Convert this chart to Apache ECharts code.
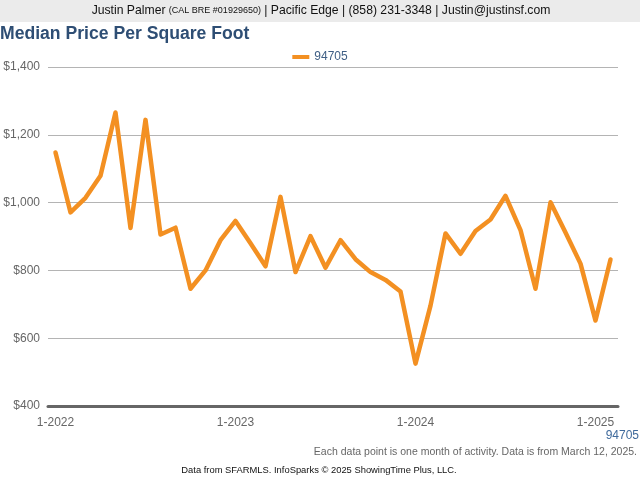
<!DOCTYPE html>
<html><head><meta charset="utf-8">
<script src="https://cdn.jsdelivr.net/npm/echarts@6/dist/echarts.min.js"></script>
<style>html,body{margin:0;padding:0;background:#fff}#c{width:640px;height:480px}</style>
</head><body><div id="c"></div>
<script>
const months = ["1-2022","2-2022","3-2022","4-2022","5-2022","6-2022","7-2022","8-2022","9-2022","10-2022","11-2022","12-2022",
"1-2023","2-2023","3-2023","4-2023","5-2023","6-2023","7-2023","8-2023","9-2023","10-2023","11-2023","12-2023",
"1-2024","2-2024","3-2024","4-2024","5-2024","6-2024","7-2024","8-2024","9-2024","10-2024","11-2024","12-2024",
"1-2025","2-2025"];
const values94705 = [1148,971,1014,1079,1266,925,1244,906,926,746,800,889,
946,880,812,1017,795,901,808,889,833,795,772,738,
525,696,909,849,916,950,1020,919,746,1001,912,820,
652,832];
const yTicks = [400,600,800,1000,1200,1400];

const chart = echarts.init(document.getElementById('c'), null, {renderer:'canvas'});
const FONT = '"Liberation Sans", Arial, sans-serif';
chart.setOption({
  animation:false,
  textStyle:{fontFamily:FONT},
  graphic:[
    {type:'rect', shape:{x:0,y:0,width:640,height:22}, style:{fill:'#ebebeb'}},
    {type:'text', x:321, y:11, style:{
      text:'{a|Justin Palmer }{b|(CAL BRE #01929650)}{a| | Pacific Edge | (858) 231-3348 | Justin@justinsf.com}',
      align:'center', verticalAlign:'middle',
      rich:{a:{fontSize:12.2, fill:'#111', fontFamily:FONT}, b:{fontSize:9, fill:'#111', fontFamily:FONT}}
    }},
    {type:'text', x:0, y:34, style:{text:'Median Price Per Square Foot', fontSize:17.6, fontWeight:'bold', fill:'#2e4e74', fontFamily:FONT, verticalAlign:'middle'}},
    {type:'text', x:639, y:436, style:{text:'94705', fontSize:12, fill:'#3f6a9c', align:'right', verticalAlign:'middle', fontFamily:FONT}},
    {type:'text', x:637, y:452, style:{text:'Each data point is one month of activity. Data is from March 12, 2025.', fontSize:10.5, fill:'#666', align:'right', verticalAlign:'middle', fontFamily:FONT}},
    {type:'text', x:319, y:470, style:{text:'Data from SFARMLS. InfoSparks \u00a9 2025 ShowingTime Plus, LLC.', fontSize:9.4, fill:'#111', align:'center', verticalAlign:'middle', fontFamily:FONT}}
  ],
  legend:{
    top:46, left:'center', itemWidth:17, itemHeight:4, icon:'rect', itemGap:4,
    textStyle:{color:'#3f5f85', fontSize:12, fontFamily:FONT},
    data:['94705']
  },
  grid:{left:48, top:67, width:570, height:339, containLabel:false},
  xAxis:{
    type:'category', data:months, boundaryGap:true,
    axisLine:{lineStyle:{color:'#666', width:3}},
    axisTick:{alignWithLabel:true, interval:11, length:5, lineStyle:{color:'#666', width:2}},
    axisLabel:{interval:11, color:'#666', fontSize:12, margin:11, fontFamily:FONT},
    splitLine:{show:false}
  },
  yAxis:{
    type:'value', min:yTicks[0], max:yTicks[yTicks.length-1], interval:200,
    axisLine:{show:false}, axisTick:{show:false},
    axisLabel:{color:'#666', fontSize:12, margin:8, fontFamily:FONT,
      formatter:v=>'$'+v.toLocaleString('en-US')},
    splitLine:{lineStyle:{color:'#b4b4b4', width:1}}
  },
  series:[{
    name:'94705', type:'line', data:values94705, showSymbol:false, symbol:'none',
    lineStyle:{color:'#f39022', width:4.5, join:'round', cap:'round'}, itemStyle:{color:'#f39022'}
  }]
});
</script></body></html>
